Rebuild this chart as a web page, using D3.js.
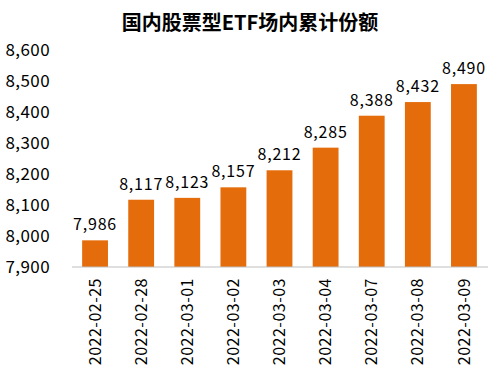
<!DOCTYPE html>
<html><head><meta charset="utf-8">
<script src="https://cdn.jsdelivr.net/npm/d3@7"></script>
<style>body{margin:0;background:#fff}</style>
</head><body>
<svg id="c" width="500" height="369"></svg>
<script>
const title = "国内股票型ETF场内累计份额";
const categories = ["2022-02-25","2022-02-28","2022-03-01","2022-03-02","2022-03-03","2022-03-04","2022-03-07","2022-03-08","2022-03-09"];
const values = [7986, 8117, 8123, 8157, 8212, 8285, 8388, 8432, 8490];
const yTicks = [7900, 8000, 8100, 8200, 8300, 8400, 8500, 8600];

const svg = d3.select("#c");
const font = "'Noto Sans CJK SC', 'Noto Sans', sans-serif";
const x = d3.scaleBand().domain(categories).range([72, 487]).paddingInner(0.44).paddingOuter(0.22);
const y = d3.scaleLinear().domain([7900, 8600]).range([267, 50]);
const fmt = d3.format(",");

svg.append("text").attr("x", 250).attr("y", 30).attr("text-anchor", "middle")
  .attr("font-family", font).attr("font-weight", "bold").attr("font-size", 20).attr("fill", "#000")
  .text(title);

svg.append("g").selectAll("text").data(yTicks).join("text")
  .attr("x", 50).attr("y", d => y(d)).attr("dy", "0.35em").attr("text-anchor", "end")
  .attr("font-family", font).attr("font-size", 17).attr("letter-spacing", "0.4px").attr("fill", "#000")
  .text(d => fmt(d));

svg.append("g").selectAll("rect").data(values).join("rect")
  .attr("x", (d, i) => x(categories[i])).attr("width", x.bandwidth())
  .attr("y", d => y(d)).attr("height", d => y(7900) - y(d))
  .attr("fill", "#E46C0A");

svg.append("line").attr("x1", 72).attr("x2", 488).attr("y1", y(7900)).attr("y2", y(7900))
  .attr("stroke", "#BFBFBF").attr("stroke-width", 1);

svg.append("g").selectAll("text").data(values).join("text")
  .attr("x", (d, i) => x(categories[i]) + x.bandwidth() / 2).attr("y", d => y(d) - 10)
  .attr("text-anchor", "middle").attr("font-family", font).attr("font-size", 16).attr("letter-spacing", "0.8px").attr("fill", "#000")
  .text(d => fmt(d));

svg.append("g").selectAll("text").data(categories).join("text")
  .attr("transform", d => `translate(${x(d) + x.bandwidth() / 2},${y(7900) + 11}) rotate(-90)`)
  .attr("text-anchor", "end").attr("dy", "0.35em")
  .attr("font-family", font).attr("font-size", 16).attr("letter-spacing", "0.5px").attr("fill", "#000")
  .text(d => d);
</script>
</body></html>
